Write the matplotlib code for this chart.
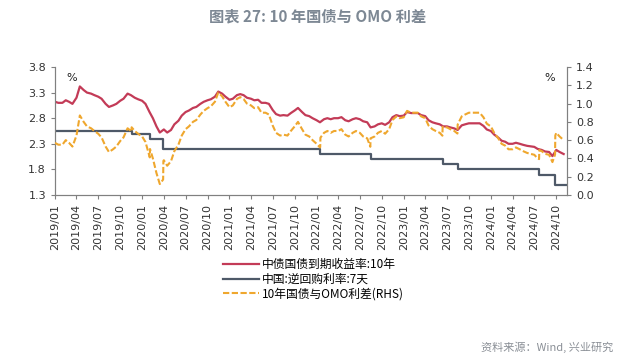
import numpy as np
import pandas as pd
import matplotlib
matplotlib.use("Agg")
import matplotlib.pyplot as plt
import matplotlib.dates as mdates

plt.rcParams['font.family'] = ['Noto Sans CJK SC', 'DejaVu Sans']

# semi-monthly observation dates (1st and 15th)
dates = pd.date_range('2019-01-01', '2024-11-01', freq='SMS')

# 10Y CGB yield (%)
yield_10y = [
    3.12, 3.10, 3.10, 3.15, 3.12, 3.08, 3.20, 3.42, 3.35, 3.30,   # 2019 Jan-May
    3.28, 3.25, 3.22, 3.18, 3.08, 3.02, 3.05, 3.08, 3.14, 3.18,   # 2019 Jun-Oct
    3.28, 3.25, 3.20, 3.17, 3.14, 3.08, 2.92, 2.80, 2.64, 2.52,   # 2019 Nov-2020 Mar
    2.58, 2.52, 2.57, 2.68, 2.75, 2.85, 2.92, 2.95, 3.00, 3.02,   # 2020 Apr-Aug
    3.08, 3.12, 3.15, 3.17, 3.22, 3.32, 3.28, 3.22, 3.16, 3.18,   # 2020 Sep-2021 Jan
    3.25, 3.27, 3.25, 3.20, 3.18, 3.15, 3.16, 3.10, 3.10, 3.08,   # 2021 Feb-Jun
    2.96, 2.88, 2.85, 2.86, 2.85, 2.90, 2.95, 3.00, 2.92, 2.86,   # 2021 Jul-Nov
    2.84, 2.80, 2.76, 2.72, 2.78, 2.80, 2.78, 2.80, 2.80, 2.82,   # 2021 Dec-2022 Apr
    2.76, 2.74, 2.78, 2.80, 2.78, 2.74, 2.72, 2.62, 2.64, 2.68,   # 2022 May-Sep
    2.70, 2.67, 2.72, 2.82, 2.86, 2.84, 2.85, 2.92, 2.90, 2.90,   # 2022 Oct-2023 Feb
    2.90, 2.86, 2.84, 2.76, 2.72, 2.70, 2.68, 2.64, 2.64, 2.62,   # 2023 Mar-Jul
    2.60, 2.57, 2.66, 2.68, 2.70, 2.70, 2.70, 2.70, 2.65, 2.58,   # 2023 Aug-Dec
    2.55, 2.48, 2.42, 2.36, 2.34, 2.30, 2.30, 2.32, 2.30, 2.28,   # 2024 Jan-May
    2.26, 2.25, 2.24, 2.20, 2.18, 2.15, 2.14, 2.06, 2.18, 2.14,   # 2024 Jun-Oct
    2.10,                                                         # 2024 Nov
]

# 7-day reverse repo (OMO) rate: change dates and levels (%)
omo_dates = ['2019-01-01', '2019-11-18', '2020-02-03', '2020-03-30', '2022-01-17',
             '2022-08-15', '2023-06-13', '2023-08-15', '2024-07-22', '2024-09-27',
             '2024-11-15']
omo_rate = [2.55, 2.50, 2.40, 2.20, 2.10, 2.00, 1.90, 1.80, 1.70, 1.50, 1.50]

omo_idx = pd.to_datetime(omo_dates)
omo_series = pd.Series(omo_rate, index=omo_idx)
# spread: 10Y yield minus OMO rate in force on each date
all_idx = dates.union(omo_idx[1:-1] - pd.Timedelta(days=1)).union(omo_idx[1:-1])
y_s = pd.Series(yield_10y, index=dates).reindex(all_idx).interpolate(method='time')
omo_on = omo_series.reindex(all_idx, method='ffill')
spread = (y_s - omo_on).dropna()

fig = plt.figure(figsize=(6.36, 3.55), dpi=100)
ax = fig.add_axes([0.0865, 0.4507, 0.805, 0.3606])
ax2 = ax.twinx()

red = '#C33B57'
slate = '#4E5968'
orange = '#EFA72E'

ax.plot(dates, yield_10y, color=red, lw=1.6, zorder=3)
ax.step(omo_idx, omo_rate, where='post', color=slate, lw=1.6, zorder=2)
ax2.plot(spread.index, spread.values, color=orange, lw=1.5, ls=(0, (3, 1.2)), zorder=3)

xmin = pd.Timestamp('2019-01-01')
xmax = pd.Timestamp('2024-11-15')
ax.set_xlim(xmin, xmax)
ax.set_ylim(1.3, 3.8)
ax.set_yticks(np.arange(1.3, 3.81, 0.5))
ax.yaxis.set_major_formatter(matplotlib.ticker.FormatStrFormatter('%.1f'))
ax2.set_ylim(0, 1.4)
ax2.set_yticks(np.arange(0, 1.41, 0.2))
ax2.yaxis.set_major_formatter(matplotlib.ticker.FormatStrFormatter('%.1f'))

ticks = pd.date_range('2019-01-01', '2024-10-01', freq='QS')
ax.set_xticks(ticks)
ax.set_xticklabels([t.strftime('%Y/%m') for t in ticks], rotation=90,
                   fontsize=7.5, family='DejaVu Sans', color='#333333')

spine_c = '#808080'
for a in (ax, ax2):
    a.spines['top'].set_visible(False)
    for s in ('left', 'right', 'bottom'):
        a.spines[s].set_color(spine_c)
    a.tick_params(colors=spine_c, length=3, width=0.8, direction='out', labelsize=8)
ax.tick_params(axis='y', labelcolor='#333333')
ax2.tick_params(axis='y', labelcolor='#333333')
ax.tick_params(axis='x', labelcolor='#333333')
for lab in ax.get_yticklabels() + ax2.get_yticklabels():
    lab.set_family('DejaVu Sans')

ax.text(0.022, 0.89, '%', transform=ax.transAxes, fontsize=8, family='DejaVu Sans', color='#222222')
ax.text(0.955, 0.89, '%', transform=ax.transAxes, fontsize=8, family='DejaVu Sans', color='#222222')

# legend
from matplotlib.lines import Line2D
handles = [Line2D([], [], color=red, lw=1.6),
           Line2D([], [], color=slate, lw=1.6),
           Line2D([], [], color=orange, lw=1.5, ls=(0, (3, 1.2)))]
labels = ['中债国债到期收益率:10年', '中国:逆回购利率:7天', '10年国债与OMO利差(RHS)']
fig.legend(handles, labels, loc='upper left', bbox_to_anchor=(0.342, 0.29),
           frameon=False, fontsize=8.5, handlelength=3.0, handletextpad=0.3,
           labelspacing=0.15, borderpad=0)

fig.text(0.5, 0.955, '图表 27: 10 年国债与 OMO 利差', ha='center', va='center',
         fontsize=11, fontweight='bold', color='#7D8894')
fig.text(0.965, 0.022, '资料来源：Wind, 兴业研究', ha='right', va='center',
         fontsize=8, color='#8A8F96')

fig.savefig('out.png', dpi=100)
